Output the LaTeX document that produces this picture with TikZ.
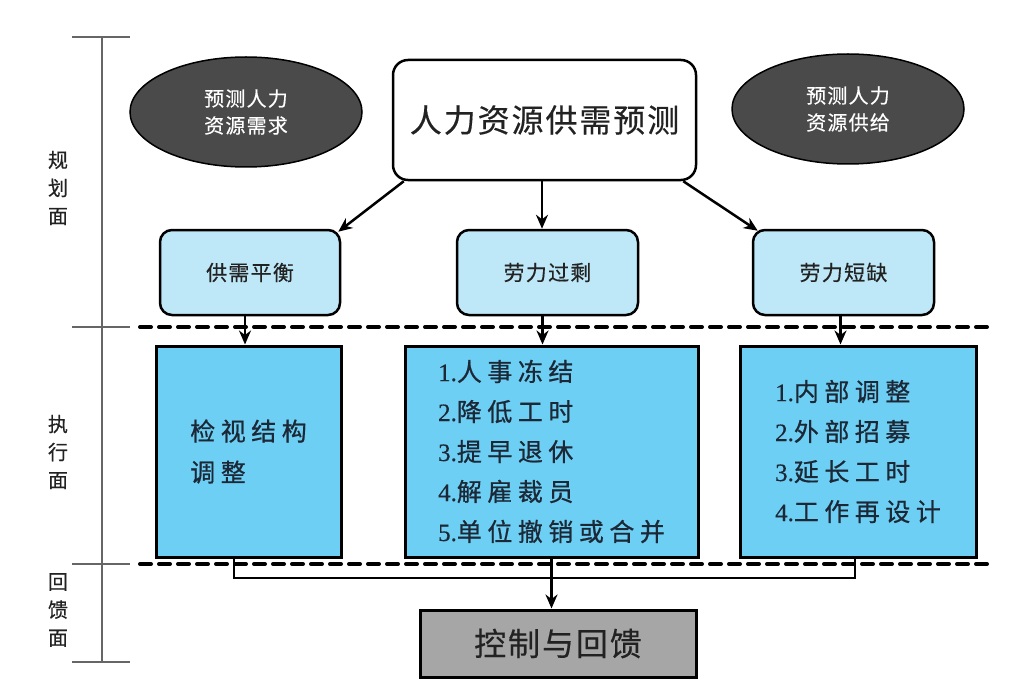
\documentclass[tikz,border=0pt]{standalone}
\usepackage{fontspec}
\setmainfont{Noto Sans CJK SC}
\newfontfamily\cjk[FakeBold=0.4]{Noto Sans CJK SC}
\newfontfamily\cjksmall[FakeBold=0.4,LetterSpace=6]{Noto Sans CJK SC}
\newfontfamily\cjksp[FakeBold=0.7,LetterSpace=22]{Noto Sans CJK SC}
\newfontfamily\cjkmid[FakeBold=0.4,LetterSpace=6]{Noto Sans CJK SC}
\newfontfamily\numserif[FakeBold=0.5]{Liberation Serif}
\usetikzlibrary{arrows.meta,calc,shapes.geometric}
\definecolor{ellgray}{HTML}{4A4A4A}
\definecolor{lightblue}{HTML}{BEE7F7}
\definecolor{execblue}{HTML}{6ECFF4}
\definecolor{ctrlgray}{HTML}{A6A6A6}
\definecolor{axisgray}{HTML}{666666}
\definecolor{navy}{HTML}{1C2836}
\definecolor{dark}{HTML}{222222}
\tikzset{
  ell/.style={ellipse, draw=black, line width=1.5pt, fill=ellgray, minimum width=232pt, minimum height=110pt, inner sep=0pt, text=white, align=center, font=\cjksmall\fontsize{20}{27}\selectfont},
  mainbox/.style={draw=black, line width=2.5pt, fill=white, rounded corners=15pt, minimum width=303pt, minimum height=120pt, inner sep=0pt, font=\cjkmid\fontsize{32}{36}\selectfont, text=dark},
  levelbox/.style={draw=black, line width=2.5pt, fill=lightblue, rounded corners=12pt, minimum height=85pt, inner sep=0pt, font=\cjksmall\fontsize{21}{24}\selectfont, text=dark},
  execbox/.style={draw=black, line width=3pt, fill=execblue, minimum height=211pt, inner sep=0pt, align=left, font=\cjksp\fontsize{25}{40}\selectfont, text=navy},
  ctrlbox/.style={draw=black, line width=3pt, fill=ctrlgray, minimum width=276pt, minimum height=67pt, inner sep=0pt, font=\cjkmid\fontsize{32}{36}\selectfont, text=dark},
  sidelabel/.style={align=center, inner sep=0pt, font=\cjk\fontsize{20}{28}\selectfont, text=dark},
  arr/.style={draw=black, line width=2.5pt, -{Stealth[length=14pt,width=12pt]}},
  fback/.style={draw=black, line width=2pt},
  dashline/.style={draw=black, line width=4pt, dash pattern=on 11pt off 8pt, line cap=round},
  axisline/.style={draw=axisgray, line width=2.5pt},
}
\begin{document}
\begin{tikzpicture}[x=1pt,y=-1pt]
\useasboundingbox[fill=white] (0,0) rectangle (1024,695);

% axis
\coordinate (at) at (102,37);
\coordinate (ab) at (102,662);
\draw[axisline] (at) -- (ab);
\foreach \yy in {37,327,564,662} {
  \draw[axisline] (72,\yy) -- (130,\yy);
}
\node[sidelabel] (l1) at (58,188) {规\\划\\面};
\node[sidelabel] (l2) at (58,452) {执\\行\\面};
\node[sidelabel] (l3) at (58,610) {回\\馈\\面};

% dashed separators
\coordinate (d1a) at (140,327);
\coordinate (d1b) at (990,327);
\coordinate (d2a) at (140,564);
\coordinate (d2b) at (990,564);
\draw[dashline] (d1a) -- (d1b);
\draw[dashline] (d2a) -- (d2b);

% top
\node[ell] (dem) at (246,112) {预测人力\\资源需求};
\node[ell] (sup) at (848,109) {预测人力\\资源供给};
\node[mainbox] (main) at (544.5,120) {人力资源供需预测};

% level 2
\node[levelbox, minimum width=180pt] (b1) at (250,272.5) {供需平衡};
\node[levelbox, minimum width=181pt] (b2) at (547.5,272.5) {劳力过剩};
\node[levelbox, minimum width=181pt] (b3) at (843.5,272.5) {劳力短缺};

% execution
\node[execbox, minimum width=185pt, font=\cjksp\fontsize{25}{41}\selectfont] (e1) at (248.5,451.5) {检视结构\\调整};
\node[execbox, minimum width=293pt] (e2) at (551.5,451.5) {{\numserif 1.}人事冻结\\{\numserif 2.}降低工时\\{\numserif 3.}提早退休\\{\numserif 4.}解雇裁员\\{\numserif 5.}单位撤销或合并};
\node[execbox, minimum width=236pt] (e3) at (858,451.5) {{\numserif 1.}内部调整\\{\numserif 2.}外部招募\\{\numserif 3.}延长工时\\{\numserif 4.}工作再设计};

% control
\node[ctrlbox] (ctrl) at (558,643.5) {控制与回馈};

% helper coordinates
\coordinate (ms) at ($(main.south)+(-2.5,0)$);
\coordinate (s1) at ($(b1.south)+(-5,0)$);
\coordinate (s2) at ($(b2.south)+(-5,0)$);
\coordinate (s3) at ($(b3.south)+(-3,0)$);
\coordinate (f1) at ($(e1.south)+(-15,0)$);
\coordinate (f3) at ($(e3.south)+(-3,0)$);
\coordinate (fy) at (0,578);

% arrows top
\draw[arr] ($(main.south west)+(12,0)$) -- ($(b1.north east)+(-3,3)$);
\draw[arr] (ms) -- (ms |- b2.north);
\draw[arr] ($(main.south east)+(-14,0)$) -- ($(b3.north west)+(6,2)$);

% level 2 -> execution
\draw[arr] (s1) -- (s1 |- e1.north);
\draw[arr] (s2) -- (s2 |- e2.north);
\draw[arr] (s3) -- (s3 |- e3.north);

% feedback
\draw[fback] (f1) |- (fy -| f3) -- (f3);
\draw[arr] (e2.south) -- (e2.south |- ctrl.north);
\end{tikzpicture}
\end{document}
